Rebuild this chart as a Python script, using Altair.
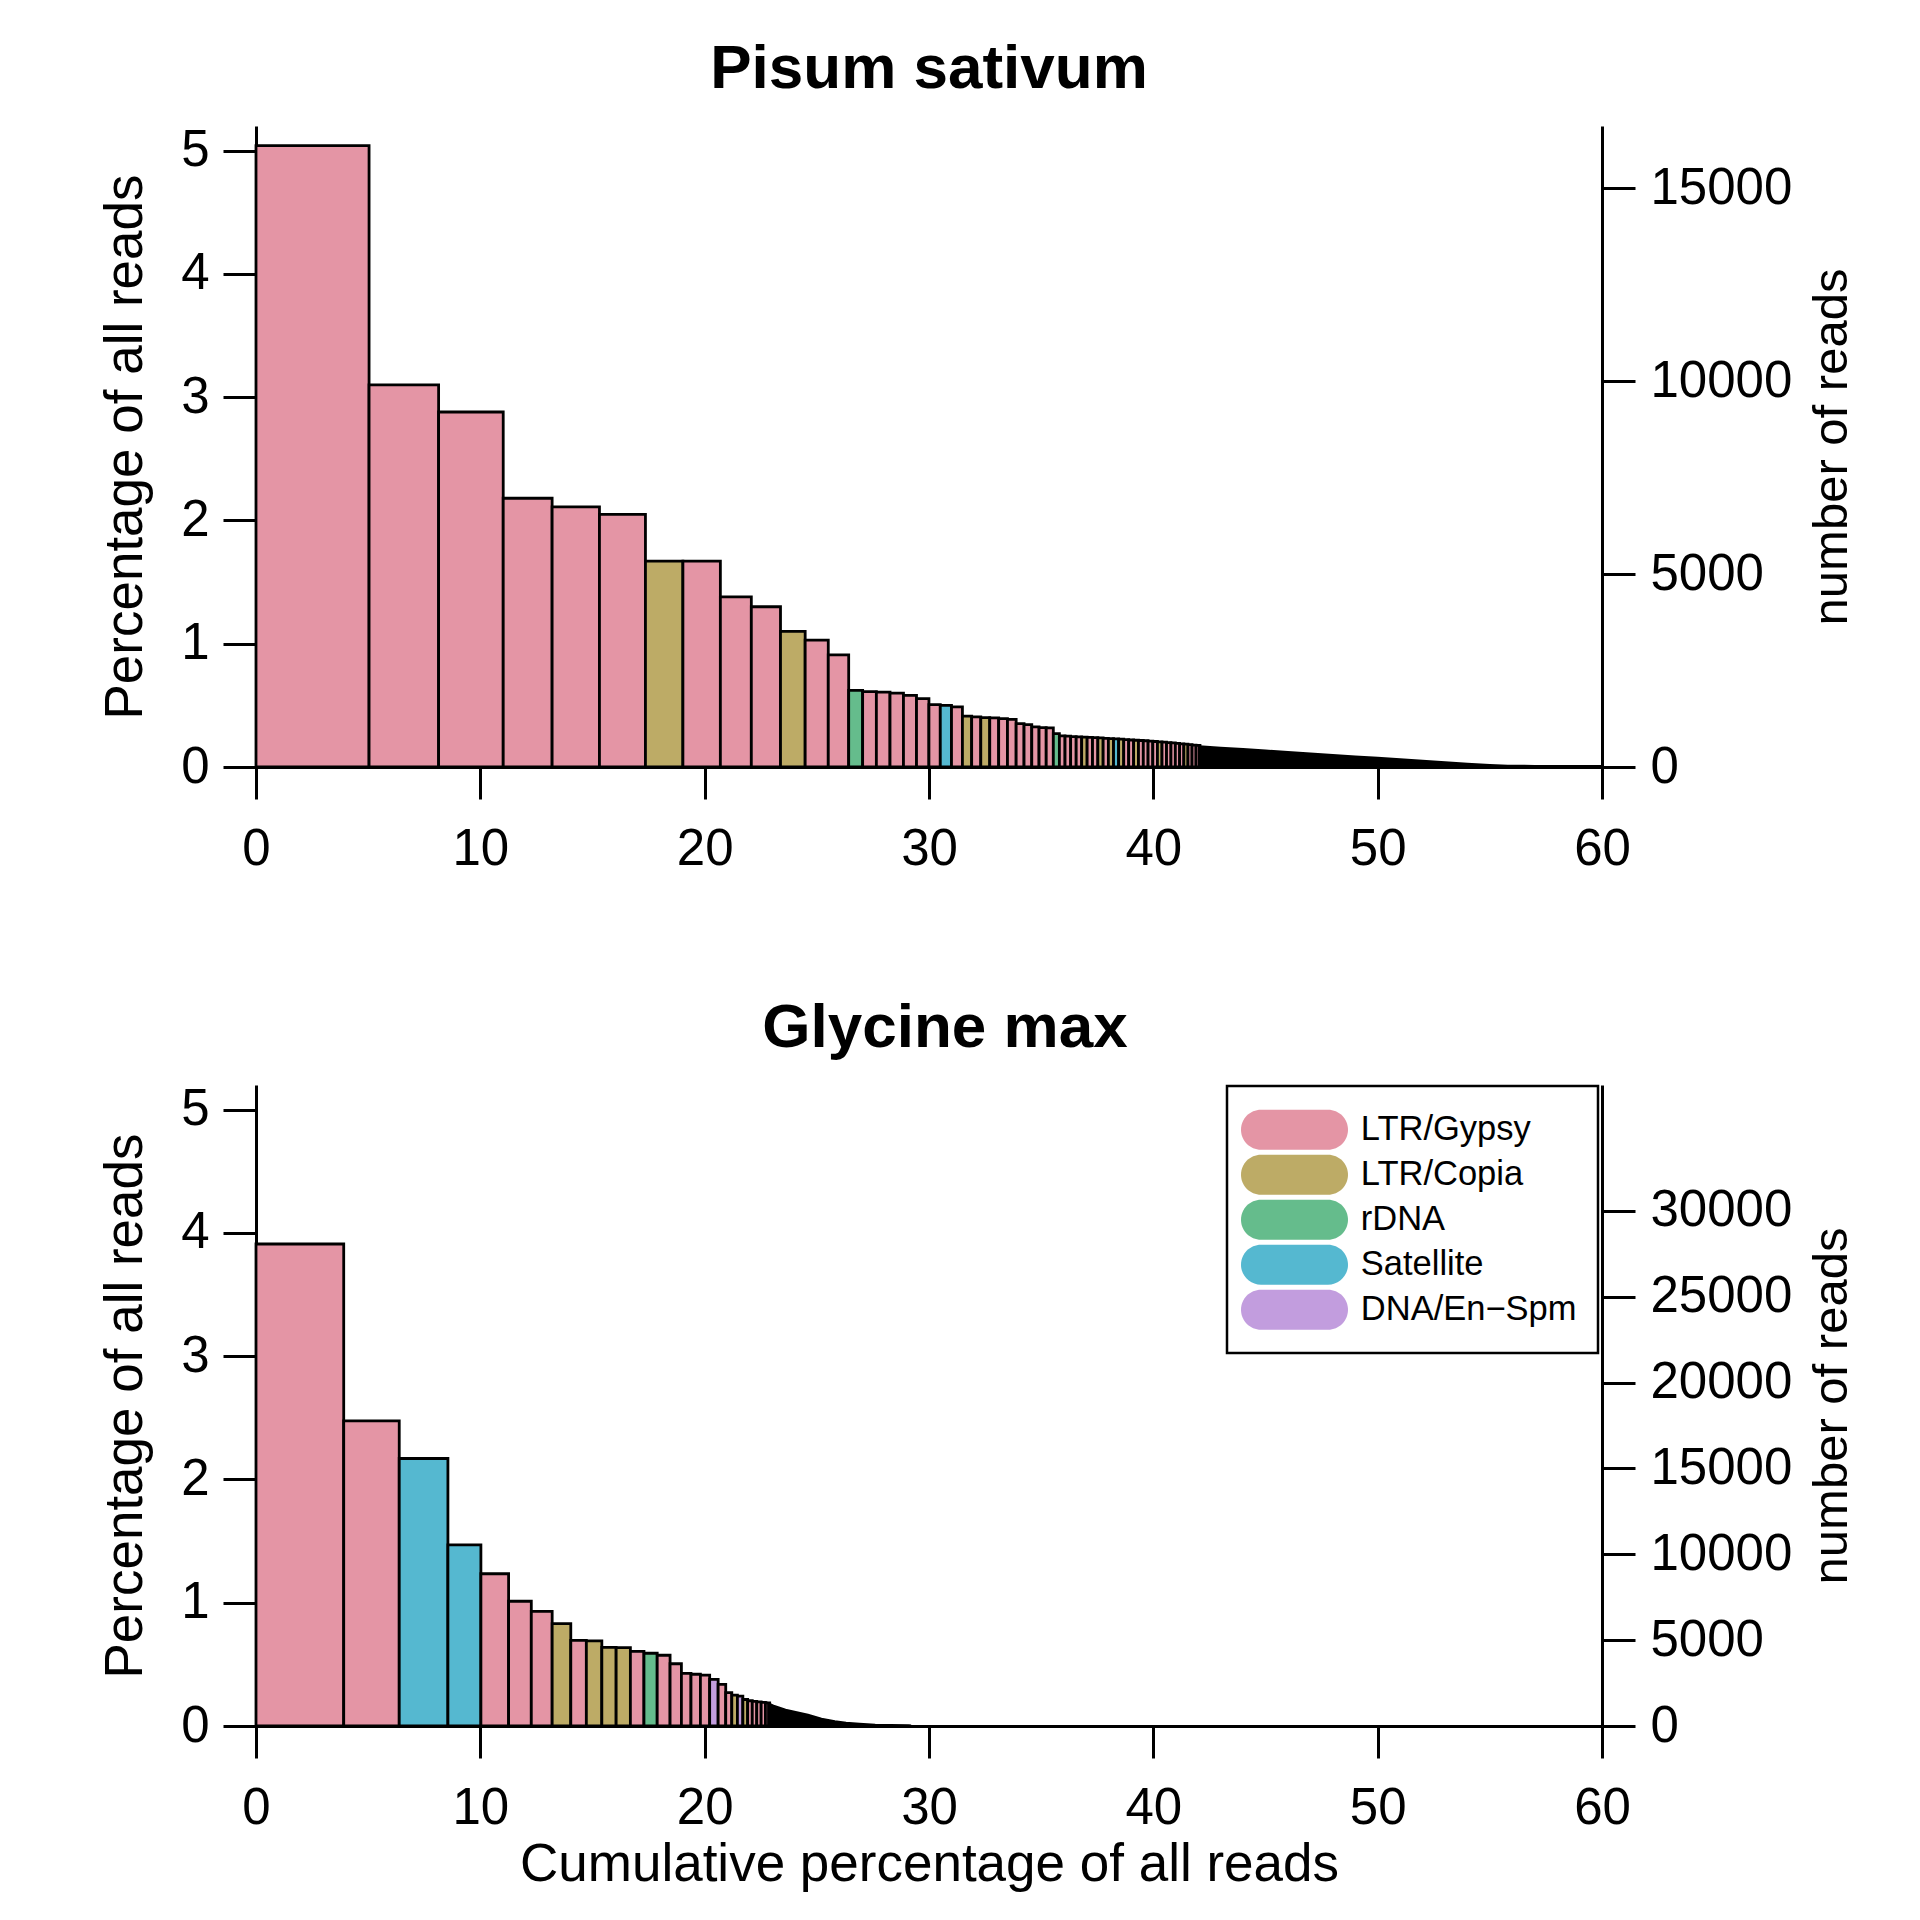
import altair as alt
import pandas as pd

FONT = "Liberation Sans"

# ---- categories ----
cat_codes = ["G", "C", "R", "S", "E"]
cat_names = ["LTR/Gypsy", "LTR/Copia", "rDNA", "Satellite", "DNA/En−Spm"]
cat_colors = ["#E495A5", "#BDAB66", "#65BC8C", "#55B8D0", "#C29DDE"]

# ---- Pisum sativum: cluster sizes (% of all reads) and repeat type ----
pisum_sizes = [5.04, 3.10, 2.88, 2.18, 2.11, 2.05, 1.67, 1.67, 1.38, 1.30, 1.10, 1.03, 0.91,
               0.622, 0.612, 0.608, 0.600, 0.581, 0.554, 0.506, 0.500, 0.487, 0.412,
               0.406, 0.400, 0.398, 0.392, 0.387, 0.352, 0.344, 0.325, 0.319, 0.317, 0.270,
               0.252, 0.250, 0.247, 0.245, 0.243, 0.240, 0.238, 0.236, 0.233, 0.230,
               0.228, 0.226, 0.222, 0.219, 0.217, 0.215, 0.213, 0.210, 0.207, 0.204,
               0.201, 0.198, 0.195, 0.191, 0.188, 0.185, 0.181, 0.178, 0.175]
pisum_types = ["G", "G", "G", "G", "G", "G", "C", "G", "G", "G", "C", "G", "G",
               "R", "G", "G", "G", "G", "G", "G", "S", "G", "C",
               "G", "C", "G", "G", "G", "G", "G", "G", "G", "G", "R",
               "G", "G", "G", "G", "C", "G", "G", "C", "G", "C",
               "S", "C", "G", "G", "C", "G", "G", "G", "G", "C",
               "G", "G", "G", "G", "G", "C", "G", "G", "G"]
# many tiny clusters after the last distinct bar: their outline envelope
pisum_tail_x = [42.05, 43, 44, 45, 46, 47, 48, 49, 50, 51, 52, 53, 54, 55, 55.8, 57, 58, 59, 60]
pisum_tail_y = [0.165, 0.153, 0.141, 0.129, 0.118, 0.106, 0.094, 0.082, 0.070, 0.058,
                0.046, 0.034, 0.023, 0.012, 0.006, 0.005, 0.005, 0.004, 0.004]
pisum_total_reads = 319500

# ---- Glycine max ----
glycine_sizes = [3.91, 2.475, 2.17, 1.47, 1.235, 1.012, 0.93, 0.83, 0.694, 0.69, 0.638, 0.635,
                 0.605, 0.59, 0.574, 0.505, 0.427, 0.42, 0.413, 0.378, 0.338, 0.27, 0.25,
                 0.243, 0.215, 0.205, 0.2, 0.196, 0.192, 0.188]
glycine_types = ["G", "G", "S", "S", "G", "G", "G", "C", "G", "C", "C", "C",
                 "G", "R", "G", "G", "G", "G", "G", "E", "G", "G", "C",
                 "E", "C", "G", "G", "G", "G", "G"]
glycine_tail_x = [22.85, 23.1, 23.6, 24.1, 24.6, 25.2, 25.8, 26.3, 26.9, 27.6, 28.3, 29.1, 29.2]
glycine_tail_y = [0.18, 0.158, 0.128, 0.108, 0.088, 0.055, 0.034, 0.022, 0.015, 0.007, 0.004, 0.002, 0.0]
glycine_total_reads = 718000

x_ticks = [0, 10, 20, 30, 40, 50, 60]
y_ticks = [0, 1, 2, 3, 4, 5]
pisum_read_ticks = [0, 5000, 10000, 15000]
glycine_read_ticks = [0, 5000, 10000, 15000, 20000, 25000, 30000]
Y_MAX = 5.2

PW, PH = 1346, 641

# pill-shaped legend swatch (unit = 23 px): 107 x 40 px, plus an invisible
# move-to point below it so that each legend row is 45 px high
PILL = ("M0,0.9565M-1.4565,-0.8696L1.4565,-0.8696"
        "A0.8696,0.8696,0,0,1,1.4565,0.8696L-1.4565,0.8696"
        "A0.8696,0.8696,0,0,1,-1.4565,-0.8696Z")

name_of = dict(zip(cat_codes, cat_names))


def make_panel(title, sizes, types, tail_x, tail_y, total_reads, read_ticks,
               show_xtitle, show_legend, title_dx):
    df = pd.DataFrame({"idx": list(range(len(sizes))), "size": sizes,
                       "type": [name_of[t] for t in types]})
    tail = pd.DataFrame({"tx": tail_x, "ty": tail_y})
    reads = pd.DataFrame({"reads": [0]})

    xscale = alt.Scale(domain=[0, 60], nice=False, zero=False)
    yscale = alt.Scale(domain=[0, Y_MAX], nice=False)

    xaxis_kw = dict(values=x_ticks, tickSize=32, labelPadding=25.5, labelFlush=False,
                    labelOverlap=False, grid=False, format="d")
    if show_xtitle:
        xaxis = alt.Axis(title="Cumulative percentage of all reads", titleX=673, titleY=154,
                         titleBaseline="alphabetic", titleAlign="center",
                         titleFontSize=53, **xaxis_kw)
    else:
        xaxis = alt.Axis(title=None, **xaxis_kw)

    yaxis = alt.Axis(values=y_ticks, tickSize=33, labelPadding=14, grid=False, format="d",
                     title="Percentage of all reads", titleAngle=270, titleX=-114.3,
                     titleY=PH / 2, titleBaseline="alphabetic", titleAlign="center",
                     titleFontSize=53)

    if show_legend:
        legend = alt.Legend(orient="none", legendX=971, legendY=1, title=None,
                            symbolType=PILL, symbolSize=46 * 46, symbolStrokeWidth=0,
                            symbolOpacity=1, symbolOffset=23.8, labelFontSize=34.5,
                            labelFont=FONT, labelColor="black", labelOffset=43.3,
                            padding=20.7, rowPadding=0, strokeColor="black",
                            fillColor="white", labelLimit=0)
    else:
        legend = None

    bars = alt.Chart(df).transform_window(
        x1="sum(size)", sort=[alt.SortField("idx", order="ascending")], frame=[None, 0]
    ).transform_calculate(
        x0="datum.x1 - datum.size", zero="0"
    ).mark_rect(stroke="black", strokeWidth=2.8).encode(
        x=alt.X("x0:Q", scale=xscale, axis=xaxis),
        x2="x1:Q",
        y=alt.Y("size:Q", scale=yscale, axis=yaxis),
        y2="zero:Q",
        color=alt.Color("type:N", scale=alt.Scale(domain=cat_names, range=cat_colors),
                        legend=legend),
    )

    tail_layer = alt.Chart(tail).mark_area(
        color="black", stroke="black", strokeWidth=3, opacity=1
    ).encode(
        x=alt.X("tx:Q", scale=xscale, axis=xaxis),
        y=alt.Y("ty:Q", scale=yscale, axis=None),
    )

    right = alt.Chart(reads).mark_point(opacity=0).encode(
        y=alt.Y("reads:Q",
                scale=alt.Scale(domain=[0, Y_MAX * total_reads / 100], nice=False),
                axis=alt.Axis(orient="right", values=read_ticks, tickSize=33,
                              labelPadding=15, grid=False, format="d",
                              title="number of reads", titleAngle=270, titleX=244.5,
                              titleY=PH / 2, titleBaseline="alphabetic",
                              titleAlign="center", titleFontSize=49))
    )

    tparams = alt.TitleParams(title, fontSize=62, fontWeight="bold", font=FONT,
                              anchor="middle", frame="group", baseline="alphabetic",
                              offset=-25, color="black", dx=title_dx)

    return alt.layer(bars, tail_layer, right).resolve_scale(y="independent").properties(
        width=PW, height=PH, title=tparams)


top = make_panel("Pisum sativum", pisum_sizes, pisum_types, pisum_tail_x, pisum_tail_y,
                 pisum_total_reads, pisum_read_ticks, False, False, 0)
bottom = make_panel("Glycine max", glycine_sizes, glycine_types, glycine_tail_x,
                    glycine_tail_y, glycine_total_reads, glycine_read_ticks, True, True, 16)

chart = alt.vconcat(top, bottom, spacing=121).resolve_scale(
    color="independent").resolve_legend(color="independent").properties(
    padding={"left": 91, "top": 29, "right": 10, "bottom": 5}
).configure(font=FONT).configure_view(stroke="transparent").configure_axis(
    labelFont=FONT, titleFont=FONT, labelFontSize=51, labelColor="black",
    titleColor="black", titleFontWeight="normal", tickColor="black", domainColor="black",
    tickWidth=3, domainWidth=3, domainCap="butt"
).configure_legend(strokeWidth=2.5)

chart.save("out.html", embed_options={"renderer": "svg", "actions": False})
